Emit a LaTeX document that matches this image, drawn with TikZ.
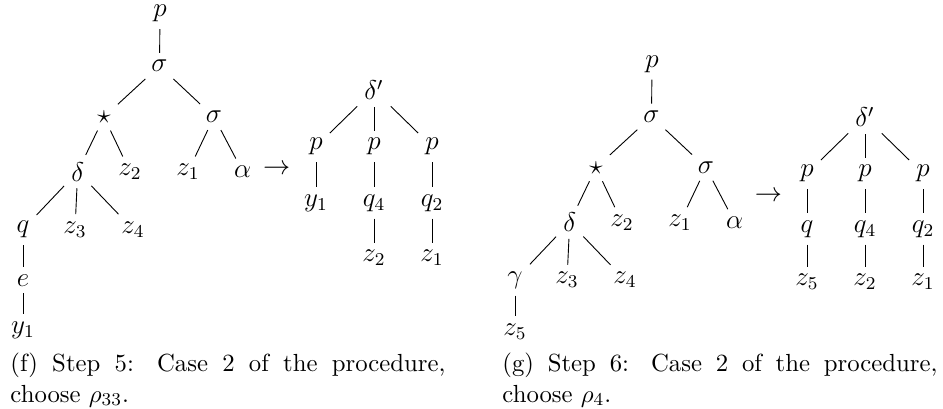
\documentclass[tikz,border=0pt]{standalone}
\usepackage{amsmath}
\begin{document}
\begin{tikzpicture}[x=0.4425pt,y=-0.4425pt,inner sep=3pt,
  every node/.style={font=\fontsize{12}{14.5}\selectfont},
  capt/.style={anchor=north west,inner sep=0pt,text width=192.5pt,align=justify,
    font=\fontsize{10.95}{13.6}\selectfont}]
  \useasboundingbox (0,0) rectangle (943,408);
  % (f) Step 5
  \node (fp) at (160,13.3) {$p$};
  \node (fs) at (159.5,65.9) {$\sigma$};
  \node (fst) at (104,117) {$\star$};
  \node (fsr) at (214,117) {$\sigma$};
  \node (fd) at (77.7,171.6) {$\delta$};
  \node (fza) at (130,171.6) {$z_2$};
  \node (fzb) at (188,171.6) {$z_1$};
  \node (fal) at (242.7,171.6) {$\alpha$};
  \node (fq) at (23,229.3) {$q$};
  \node (fzc) at (75,229.3) {$z_3$};
  \node (fzd) at (133,229.3) {$z_4$};
  \node (fe) at (23,280.3) {$e$};
  \node (fy) at (23,330) {$y_1$};
  \foreach \a/\b in {fp/fs,fs/fst,fs/fsr,fst/fd,fst/fza,fsr/fzb,fsr/fal,
                     fd/fq,fd/fzc,fd/fzd,fq/fe,fe/fy}
    \draw (\a) -- (\b);
  \node (farr) at (276.7,170) {$\rightarrow$};
  \node (fdp) at (374,90) {$\delta'$};
  \node (fpa) at (316,146.5) {$p$};
  \node (fpb) at (374,146.5) {$p$};
  \node (fpc) at (432,146.5) {$p$};
  \node (fya) at (316,203) {$y_1$};
  \node (fqd) at (374,203) {$q_4$};
  \node (fqb) at (432,203) {$q_2$};
  \node (fzz) at (374,258) {$z_2$};
  \node (fzy) at (432,258) {$z_1$};
  \foreach \a/\b in {fdp/fpa,fdp/fpb,fdp/fpc,fpa/fya,fpb/fqd,fpc/fqb,fqd/fzz,fqb/fzy}
    \draw (\a) -- (\b);
  \node[capt] (fcap) at (10,352.3)
    {(f) Step 5: Case 2 of the procedure,\linebreak choose $\rho_{33}$.};
  % (g) Step 6
  \node (gp) at (652,64) {$p$};
  \node (gs) at (651.5,116.6) {$\sigma$};
  \node (gst) at (596,167.7) {$\star$};
  \node (gsr) at (706,167.7) {$\sigma$};
  \node (gd) at (569.7,222.3) {$\delta$};
  \node (gza) at (622,222.3) {$z_2$};
  \node (gzb) at (680,222.3) {$z_1$};
  \node (gal) at (734.7,222.3) {$\alpha$};
  \node (gg) at (515,280) {$\gamma$};
  \node (gzc) at (567,280) {$z_3$};
  \node (gzd) at (625,280) {$z_4$};
  \node (gzf) at (515,331.3) {$z_5$};
  \foreach \a/\b in {gp/gs,gs/gst,gs/gsr,gst/gd,gst/gza,gsr/gzb,gsr/gal,
                     gd/gg,gd/gzc,gd/gzd,gg/gzf}
    \draw (\a) -- (\b);
  \node (garr) at (768.3,196.7) {$\rightarrow$};
  \node (gdp) at (865,117) {$\delta'$};
  \node (gpa) at (807,173.5) {$p$};
  \node (gpb) at (865,173.5) {$p$};
  \node (gpc) at (923,173.5) {$p$};
  \node (gq) at (807,229) {$q$};
  \node (gqd) at (865,229) {$q_4$};
  \node (gqb) at (923,229) {$q_2$};
  \node (gzz) at (807,282) {$z_5$};
  \node (gzy) at (865,282) {$z_2$};
  \node (gzx) at (923,282) {$z_1$};
  \foreach \a/\b in {gdp/gpa,gdp/gpb,gdp/gpc,gpa/gq,gpb/gqd,gpc/gqb,gq/gzz,gqd/gzy,gqb/gzx}
    \draw (\a) -- (\b);
  \node[capt] (gcap) at (502,352.3)
    {(g) Step 6: Case 2 of the procedure,\linebreak choose $\rho_4$.};
\end{tikzpicture}
\end{document}
